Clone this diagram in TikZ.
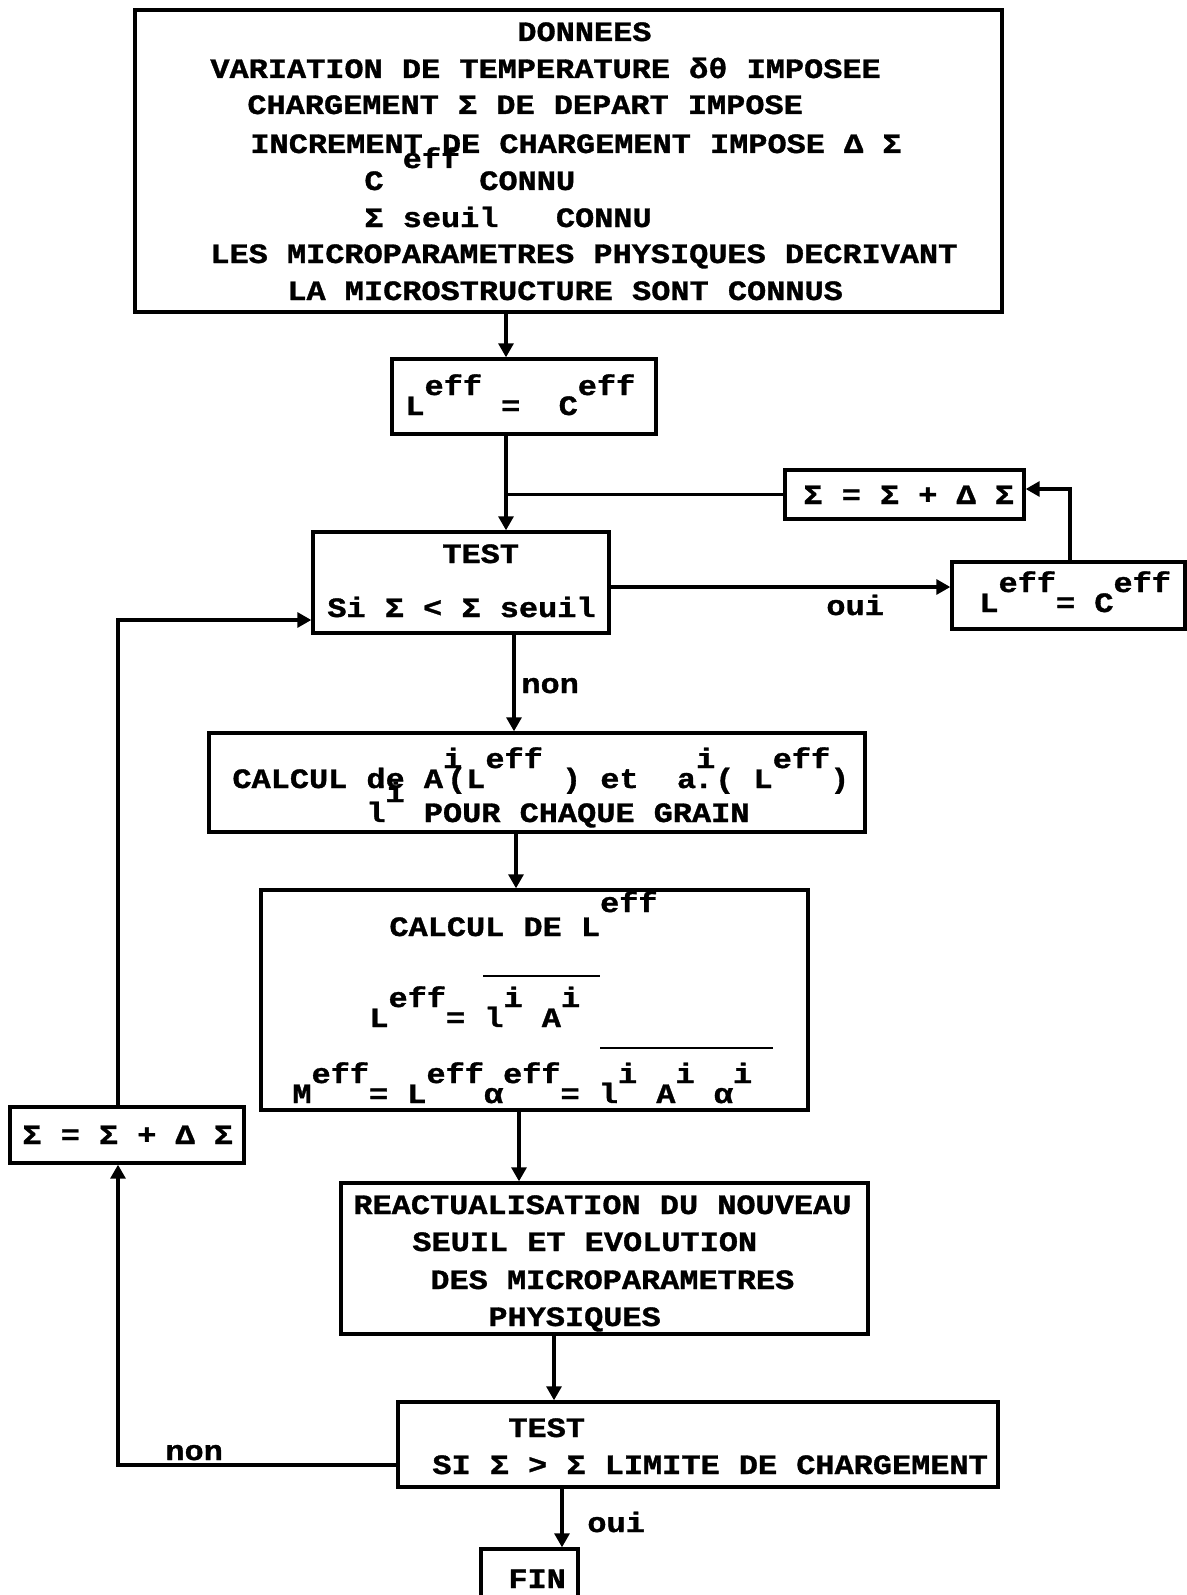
\documentclass[tikz,border=0pt]{standalone}
\usepackage{fontspec}
\setmainfont{Liberation Mono}[FakeStretch=1.14, BoldFeatures={FakeBold=1.2}]
\usetikzlibrary{positioning, arrows.meta, fit}
\newcommand{\hoch}[2][10pt]{\raisebox{#1}{#2}}

\begin{document}
\begin{tikzpicture}[x=0.5pt, y=-0.5pt, >={Triangle[length=7pt, width=7.5pt]},
    box/.style={draw, line width=1.7pt, inner sep=0pt},
    txt/.style={anchor=base west, inner sep=0pt, font=\bfseries\fontsize{14}{16}\selectfont},
    link/.style={line width=1.6pt}]
\useasboundingbox (0,0) rectangle (1187,1595);
\clip (0,0) rectangle (1187,1595);

% boxes
\node[box, fit={(135,10) (1002,312)}] (donnees) {};
\node[box, fit={(392,359) (656,434)}] (leff) {};
\node[box, fit={(313,532) (609,633)}] (test) {};
\node[box, fit={(785,470) (1024,519)}] (incr1) {};
\node[box, fit={(952,562) (1185,629)}] (leff2) {};
\node[box, fit={(209,733) (865,832)}] (calcA) {};
\node[box, fit={(261,890) (808,1110)}] (calcL) {};
\node[box, fit={(341,1183) (868,1334)}] (reac) {};
\node[box, fit={(398,1402) (998,1487)}] (test2) {};
\node[box, fit={(481,1549) (578,1620)}] (fin) {};
\node[box, fit={(10,1107) (244,1163)}] (incr2) {};

% texts
\node[txt] (d1) at (517,41) {DONNEES};
\node[txt] (d2) at (210,78) {VARIATION DE TEMPERATURE δθ IMPOSEE};
\node[txt] (d3) at (247,114) {CHARGEMENT Σ DE DEPART IMPOSE};
\node[txt] (d4) at (250,153) {INCREMENT DE CHARGEMENT IMPOSE Δ Σ};
\node[txt] (d5) at (364,190) {C~\hoch[11pt]{eff}~CONNU};
\node[txt] (d6) at (364,227) {Σ~seuil~~~CONNU};
\node[txt] (d7) at (210,263) {LES MICROPARAMETRES PHYSIQUES DECRIVANT};
\node[txt] (d8) at (287,300) {LA MICROSTRUCTURE SONT CONNUS};

\node[txt] (l1) at (405,415) {L\hoch{eff}~=~~C\hoch{eff}};
\node[txt] (t1) at (442,563) {TEST};
\node[txt] (t2) at (327,617) {Si Σ < Σ seuil};
\node[txt] (s1) at (803,504) {Σ = Σ + Δ Σ};
\node[txt] (l2) at (979,612) {L\hoch{eff}=~C\hoch{eff}};

\node[txt] (a1) at (232,788) {CALCUL de A\rlap{\hoch{i}}\hspace{2pt}(L\hoch{eff}~)~et~~a\hoch{i}\llap{.\hspace{1pt}}(~L\hoch{eff})};
\node[txt] (a2) at (366,822) {l\hoch{i}~POUR CHAQUE GRAIN};

\node[txt] (b1) at (389,936) {CALCUL DE L\hoch[12pt]{eff}};
\node[txt] (b2) at (369,1027) {L\hoch{eff}=~l\hoch{i}~A\hoch{i}};
\node[txt] (b3) at (292,1103) {M\hoch{eff}=~L\hoch{eff}α\hoch{eff}=~l\hoch{i}~A\hoch{i}~α\hoch{i}};
\draw[line width=1.3pt] (483,976) -- (600,976);
\draw[line width=1.3pt] (600,1048) -- (773,1048);

\node[txt] (r1) at (353,1214) {REACTUALISATION DU NOUVEAU};
\node[txt] (r2) at (412,1251) {SEUIL ET EVOLUTION};
\node[txt] (r3) at (430,1289) {DES MICROPARAMETRES};
\node[txt] (r4) at (488,1326) {PHYSIQUES};

\node[txt] (u1) at (508,1437) {TEST};
\node[txt] (u2) at (432,1474) {SI Σ > Σ LIMITE DE CHARGEMENT};
\node[txt] (f1) at (508,1588) {FIN};
\node[txt] (s2) at (22,1144) {Σ = Σ + Δ Σ};

\node[txt] (oui1) at (826,615) {oui};
\node[txt] (non1) at (521,693) {non};
\node[txt] (non2) at (165,1460) {non};
\node[txt] (oui2) at (587,1532) {oui};

% connectors
\coordinate (c1) at (506,0);
\coordinate (c2) at (514,0);
\coordinate (c3) at (516,0);
\coordinate (c4) at (519,0);
\coordinate (c5) at (554,0);
\coordinate (c6) at (562,0);
\coordinate (c7) at (1070,0);
\coordinate (c8) at (118,0);
\coordinate (yb) at (0,587);
\coordinate (yc) at (0,489);
\coordinate (yd) at (0,1465);
\coordinate (ye) at (0,620);

\draw[link, ->] (donnees.south -| c1) -- (leff.north -| c1);
\draw[link, ->] (leff.south -| c1) -- (test.north -| c1);
\draw[link] (incr1.west) -- (incr1.west -| c1);
\draw[link, ->] (test.east |- yb) -- (leff2.west |- yb);
\draw[link, ->] (leff2.north -| c7) |- (incr1.east |- yc);
\draw[link, ->] (test.south -| c2) -- (calcA.north -| c2);
\draw[link, ->] (calcA.south -| c3) -- (calcL.north -| c3);
\draw[link, ->] (calcL.south -| c4) -- (reac.north -| c4);
\draw[link, ->] (reac.south -| c5) -- (test2.north -| c5);
\draw[link, ->] (test2.south -| c6) -- (fin.north -| c6);
\draw[link, ->] (test2.west |- yd) -| (incr2.south -| c8);
\draw[link, ->] (incr2.north -| c8) |- (test.west |- ye);
\end{tikzpicture}
\end{document}
